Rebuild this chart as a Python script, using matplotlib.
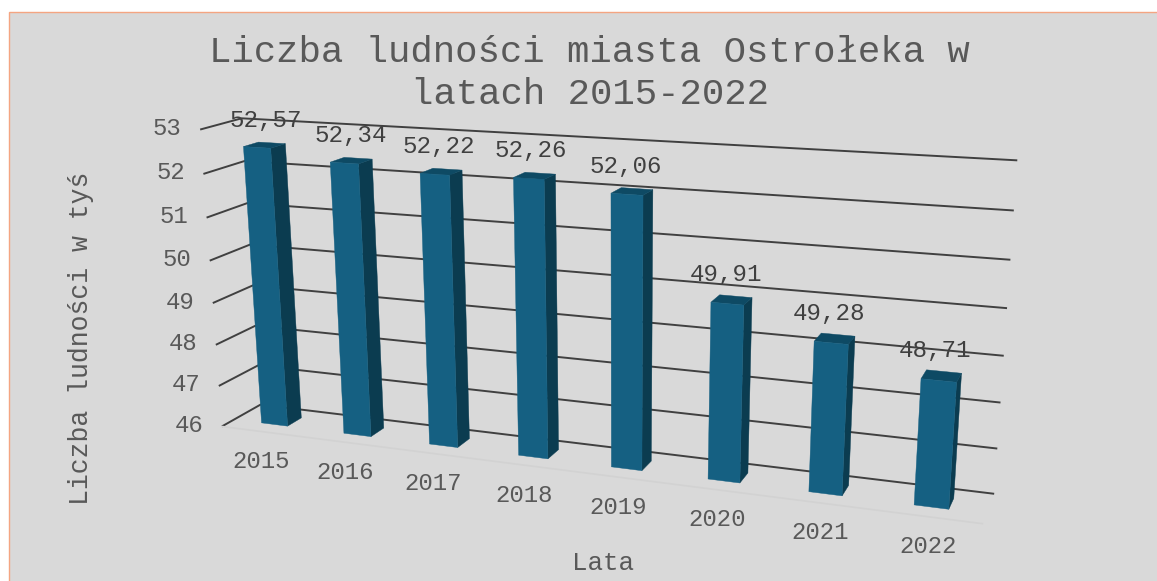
import numpy as np
import matplotlib
matplotlib.use('Agg')
import matplotlib.pyplot as plt
from matplotlib.patches import Polygon, Rectangle

lata = ['2015', '2016', '2017', '2018', '2019', '2020', '2021', '2022']
ludnosc = [52.57, 52.34, 52.22, 52.26, 52.06, 49.91, 49.28, 48.71]
etykiety = ['52,57', '52,34', '52,22', '52,26', '52,06', '49,91', '49,28', '48,71']
skala_y = [46, 47, 48, 49, 50, 51, 52, 53]

# depth: 0 = front of a bar, 1 = back of a bar
w = 0.16
z_front = -0.85
z_back = 1.85

# camera calibration: (category, value, depth) -> pixel, measured on the reference
kal = [
    (-0.5, 53, z_back, 236, 118), (7.5, 53, z_back, 1017, 160),
    (7.5, 46, z_back, 995, 494), (-0.5, 46, z_back, 262, 405),
    (-0.5, 53, z_front, 199, 129), (-0.5, 46, z_front, 220, 426),
    (-w, 52.57, 0, 245, 147), (w, 52.57, 0, 272, 148), (w, 52.57, 1, 287, 144),
    (-w, 52.57, 1, 262, 142), (-w, 46, 0, 262, 423), (w, 46, 0, 287, 426),
    (w, 46, 1, 302, 418),
    (3 - w, 52.26, 0, 514, 178), (3 + w, 52.26, 0, 545, 180),
    (3 - w, 46, 0, 518, 456), (3 + w, 46, 0, 547, 459),
    (4 - w, 52.06, 0, 611, 193), (4 + w, 52.06, 0, 642, 195),
    (4 + w, 52.06, 1, 652, 190), (4 - w, 46, 0, 612, 467),
    (4 + w, 46, 0, 641, 470), (4 + w, 46, 1, 651, 460),
    (7 - w, 48.71, 0, 922, 380), (7 + w, 48.71, 0, 956, 382),
    (7 + w, 48.71, 1, 961, 373), (7 - w, 48.71, 1, 927, 370),
    (7 - w, 46, 0, 915, 505), (7 + w, 46, 0, 949, 509), (7 + w, 46, 1, 953, 498),
]
A = []
for x, v, z, px, py in kal:
    A.append([x, v, z, 1, 0, 0, 0, 0, -px * x, -px * v, -px * z, -px])
    A.append([0, 0, 0, 0, x, v, z, 1, -py * x, -py * v, -py * z, -py])
P = np.linalg.svd(np.array(A, float))[2][-1].reshape(3, 4)


def rzut(x, v, z):
    q = P @ np.array([x, v, z, 1.0])
    return q[0] / q[2], q[1] / q[2]


mono = 'Liberation Mono'
fig = plt.figure(figsize=(11.57, 5.81), dpi=100)
ax = fig.add_axes([0, 0, 1, 1])
ax.set_xlim(0, 1157)
ax.set_ylim(581, 0)
ax.axis('off')
ax.add_patch(Rectangle((9, 12), 1160, 580, fc='#d9d9d9', ec='#f4a582', lw=1))

# grid on side wall and back wall
for v in skala_y:
    pts = [rzut(-0.5, v, z_front), rzut(-0.5, v, z_back), rzut(7.5, v, z_back)]
    ax.plot(*zip(*pts), color='#404040', lw=1.4, solid_capstyle='butt', zorder=2)
    px, py = pts[0]
    ax.text(px - 33, py - 1, str(v), family=mono, fontsize=17.3, color='#595959',
            ha='center', va='center')
ax.plot(*zip(rzut(-0.5, 46, z_front), rzut(7.5, 46, z_front)), color='#d2d2d2', lw=1.2, zorder=2)

for i, (rok, wart, et) in enumerate(zip(lata, ludnosc, etykiety)):
    l, r = i - w, i + w
    side = [rzut(r, wart, 0), rzut(r, wart, 1), rzut(r, 46, 1), rzut(r, 46, 0)]
    front = [rzut(l, wart, 0), rzut(r, wart, 0), rzut(r, 46, 0), rzut(l, 46, 0)]
    top = [rzut(l, wart, 0), rzut(l, wart, 1), rzut(r, wart, 1), rzut(r, wart, 0)]
    ax.add_patch(Polygon(side, fc='#0b3c50', ec='#0b3c50', lw=0.3, zorder=3))
    ax.add_patch(Polygon(top, fc='#0e4a64', ec='#0e4a64', lw=0.3, zorder=3))
    ax.add_patch(Polygon(front, fc='#156082', ec='#156082', lw=0.3, zorder=4))
    tx, ty = rzut(i, wart, 0.5)
    # labels drift right on the left bars
    ax.text(tx - 6 + 1.7 * max(0, 4 - i), ty - 25, et, family=mono, fontsize=17.4, color='#404040',
            ha='center', va='center', zorder=5)
    bx, by = rzut(i, 46, z_front)
    ax.text(bx - 1 + 0.3 * i, by + 30, rok, family=mono, fontsize=17.3, color='#595959',
            ha='center', va='center')

ax.text(589, 53, 'Liczba ludności miasta Ostrołeka w', family=mono,
        fontsize=26.9, color='#595959', ha='center', va='center')
ax.text(590, 95, 'latach 2015-2022', family=mono,
        fontsize=26.9, color='#595959', ha='center', va='center')
ax.text(603, 563, 'Lata', family=mono, fontsize=18.6, color='#595959', ha='center', va='center')
ax.text(81, 338, 'Liczba ludności w tyś', family=mono, fontsize=19.1, color='#595959',
        rotation=90, ha='center', va='center')

fig.savefig('out.png', dpi=100)
